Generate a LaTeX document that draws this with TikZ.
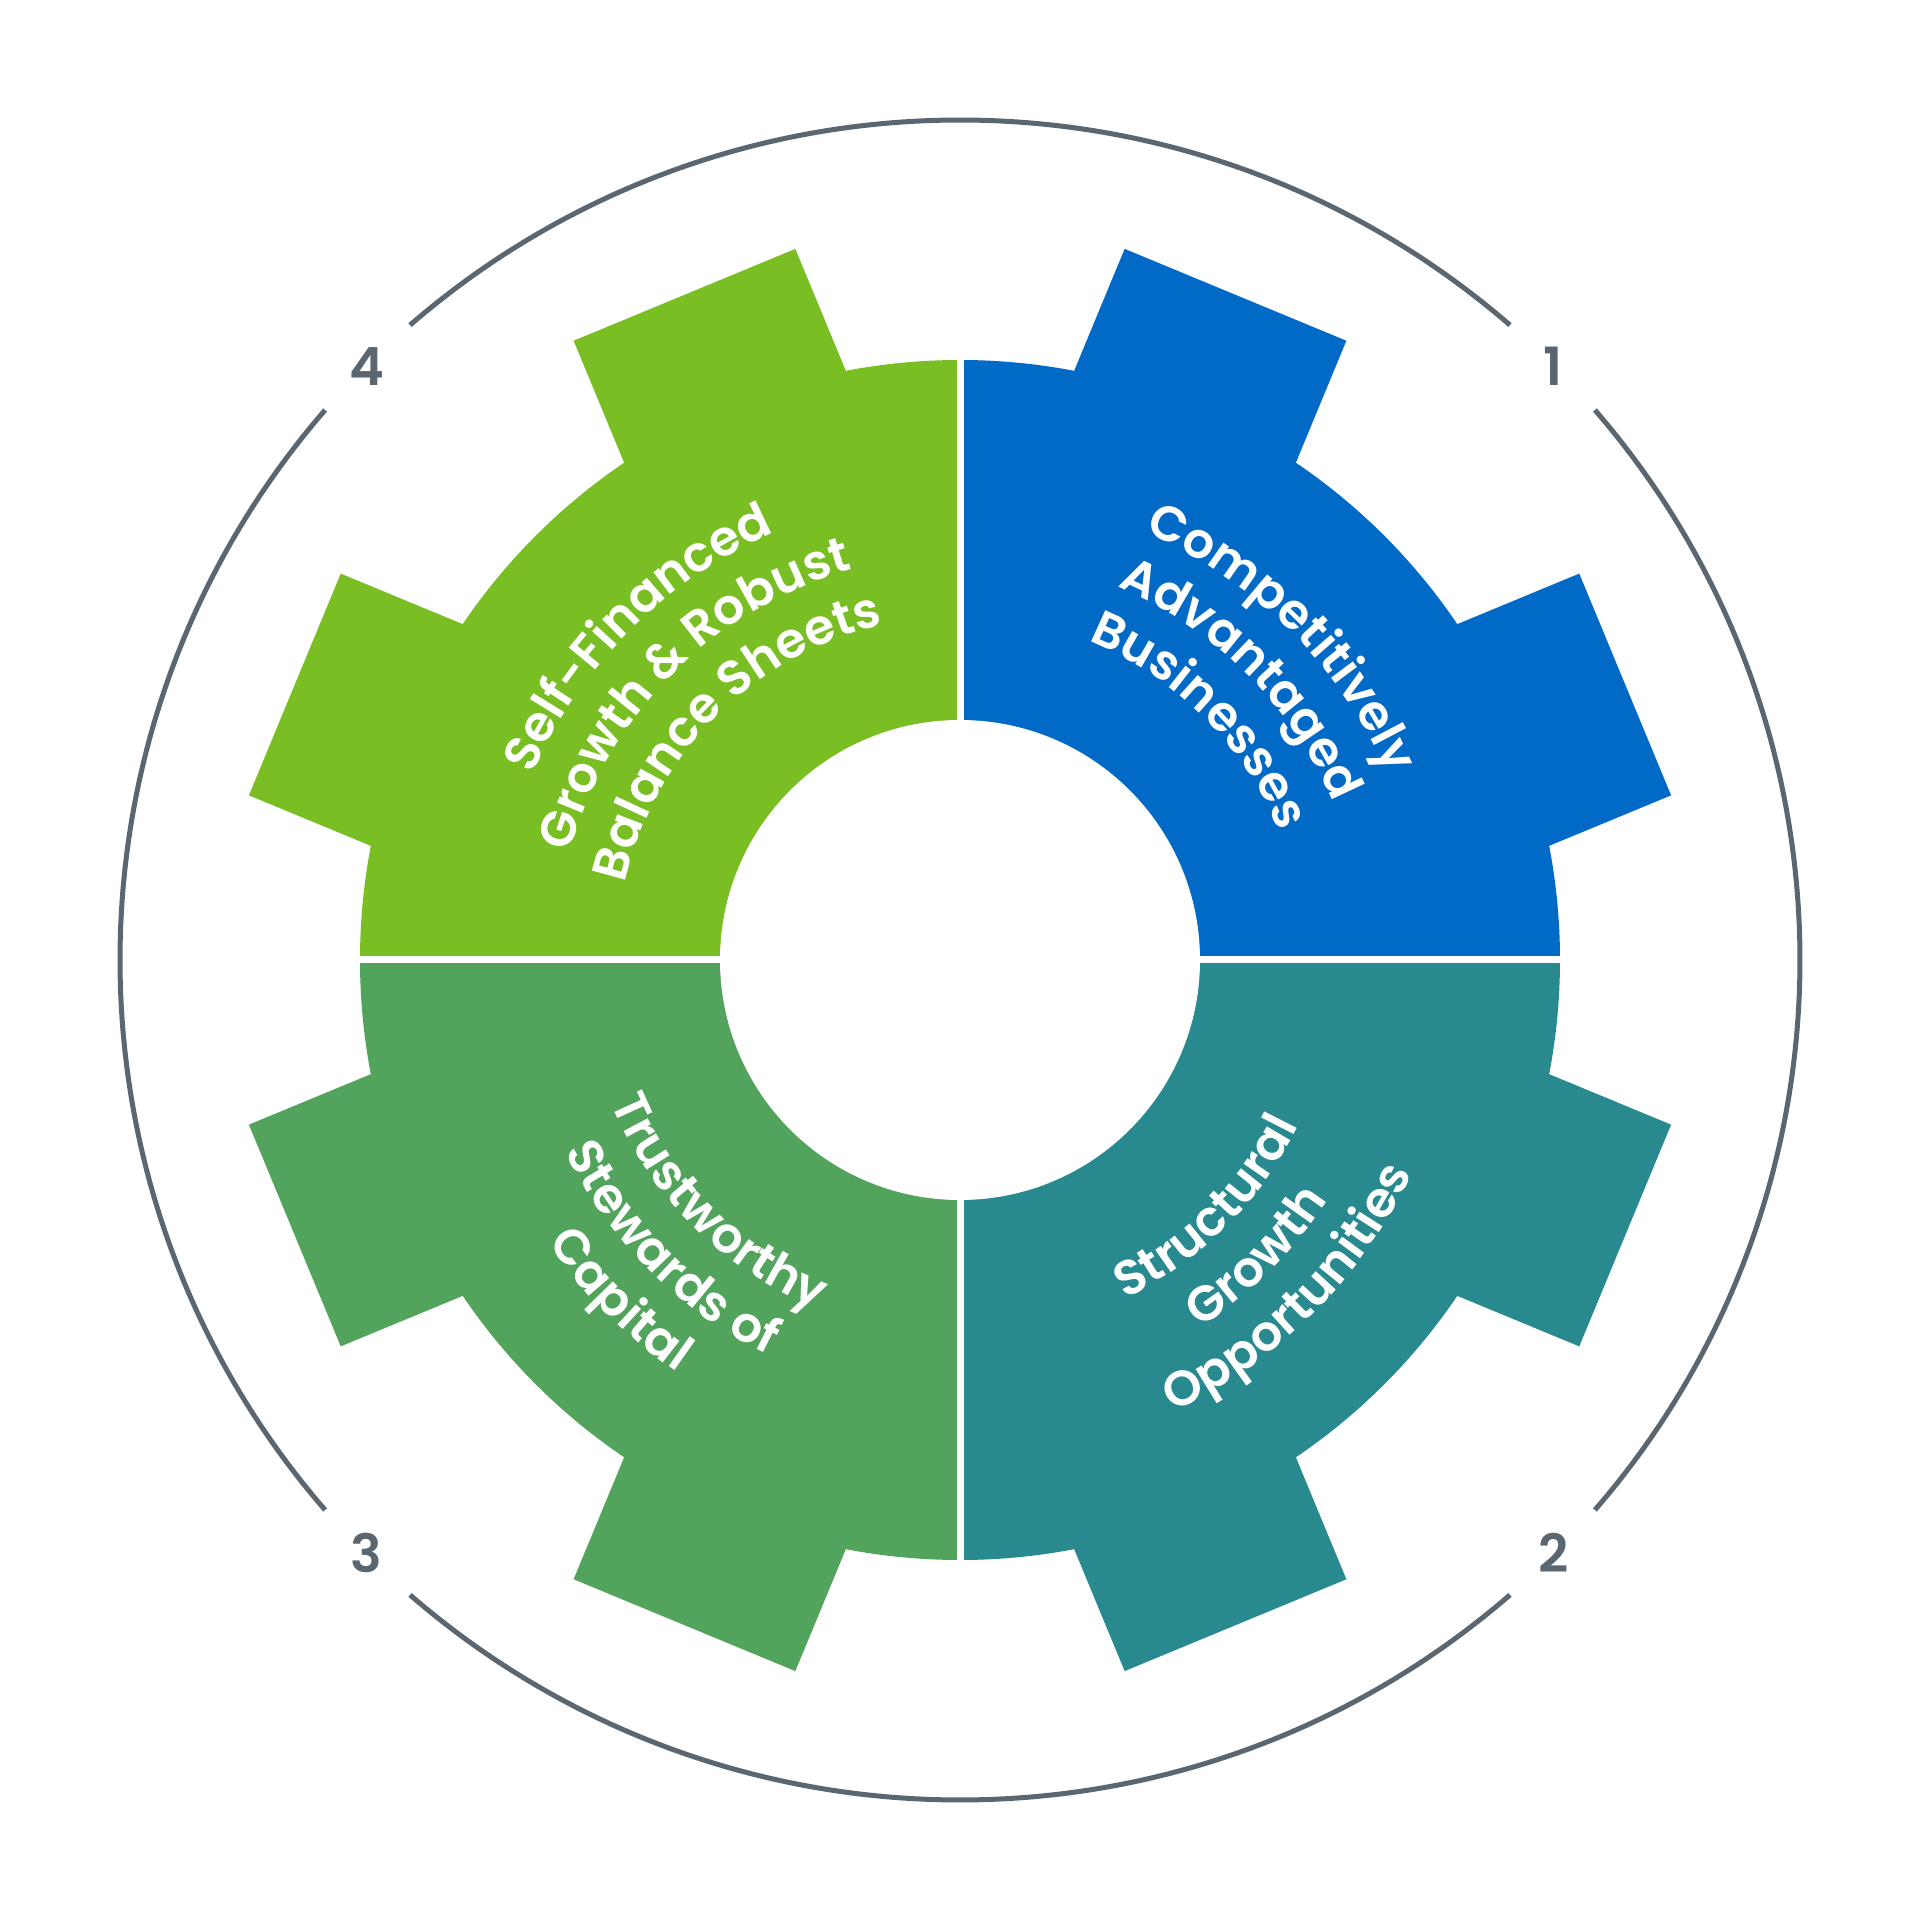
\documentclass[tikz,border=0pt]{standalone}
\usepackage{fontspec}
\IfFontExistsTF{Poppins SemiBold}
  {\newfontfamily\pop{Poppins SemiBold}\newcommand\popw{\mdseries}}
  {\newfontfamily\pop{Poppins}\newcommand\popw{\bfseries}}
\usetikzlibrary{decorations.text}
\definecolor{gblue}{RGB}{1,105,198}
\definecolor{gteal}{RGB}{40,137,143}
\definecolor{ggreen}{RGB}{82,163,92}
\definecolor{glime}{RGB}{121,190,34}
\definecolor{ringgray}{RGB}{90,102,112}
\tikzset{
  ring/.style={draw=ringgray, line width=0.05cm},
  numlabel/.style={font=\pop\popw\fontsize{15}{18}\selectfont, text=ringgray, inner sep=0pt},
  arctext/.style={decorate, decoration={text along path, text align=center, text color=white,
      text={|\pop\popw\fontsize{14}{17}\selectfont|#1}}},
  sep/.style={draw=white, line width=0.07cm}
}
\begin{document}
\begin{tikzpicture}
\useasboundingbox (-9.6,-9.6) rectangle (9.6,9.6);
% gear quadrants
\foreach \col/\a in {gblue/0, glime/90, ggreen/180, gteal/270}{
  \begin{scope}
    \clip (0,0) -- (\a:12) -- (\a+45:17) -- (\a+90:12) -- cycle;
    \fill[\col] (0,0) circle (6);
    \foreach \t in {22.5,67.5,...,337.5}
      \fill[\col, rotate=\t] (5,-1.2) rectangle (7.2,1.2);
  \end{scope}
}
\fill[white] (0,0) circle (2.4);
\draw[sep] (-7.6,0) -- (7.6,0);
\draw[sep] (0,-7.6) -- (0,7.6);
% outer ring
\foreach \a in {0,90,180,270}
  \draw[ring] (\a+49.1:8.4) arc (\a+49.1:\a+130.9:8.4);
% numbers
\node[numlabel] (n1) at (45:8.39) {1};
\node[numlabel] (n2) at (-45:8.39) {2};
\node[numlabel] (n3) at (225:8.39) {3};
\node[numlabel] (n4) at (135:8.39) {4};
% top-right
\path[arctext={Competitively}] (105:4.66) arc (105:-15:4.66);
\path[arctext={Advantaged}] (105:4.05) arc (105:-15:4.05);
\path[arctext={Businesses}] (105:3.44) arc (105:-15:3.44);
% top-left
\path[arctext={Self-Financed}] (195:4.66) arc (195:75:4.66);
\path[arctext={Growth {\&} Robust}] (195:4.05) arc (195:75:4.05);
\path[arctext={Balance Sheets}] (195:3.44) arc (195:75:3.44);
% bottom-right
\path[arctext={Structural}] (-105:3.77) arc (-105:15:3.77);
\path[arctext={Growth}] (-105:4.39) arc (-105:15:4.39);
\path[arctext={Opportunities}] (-105:5.0) arc (-105:15:5.0);
% bottom-left
\path[arctext={Trustworthy}] (165:3.77) arc (165:285:3.77);
\path[arctext={Stewards of}] (165:4.39) arc (165:285:4.39);
\path[arctext={Capital}] (165:5.0) arc (165:285:5.0);
\end{tikzpicture}
\end{document}
